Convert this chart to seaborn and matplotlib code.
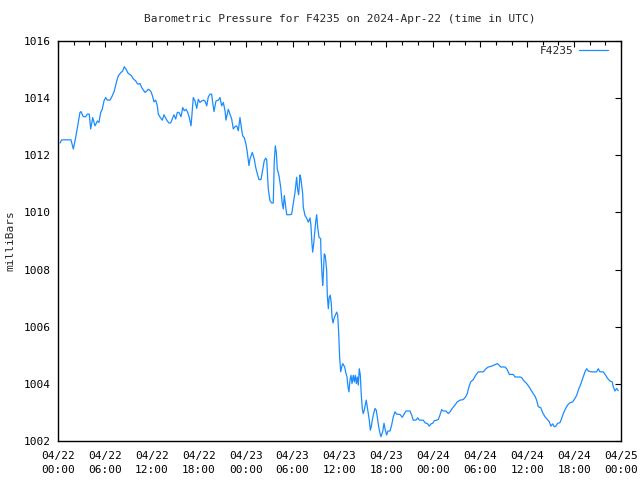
import matplotlib
matplotlib.use("Agg")
import matplotlib.pyplot as plt
import matplotlib.dates as mdates
import numpy as np
import pandas as pd
import seaborn as sns

# hours since 2024-04-22 00:00 UTC
hours = [0.26, 0.47, 1.66, 1.96, 2.26, 2.52, 2.81, 2.94, 3.24, 3.54, 3.75, 4.00, 4.18, 4.44, 4.73, 5.03, 5.24, 5.46, 5.66, 5.88,
         6.10, 6.30, 6.65, 6.94, 7.20, 7.51, 7.71, 8.02, 8.27, 8.48, 8.70, 8.99, 9.34, 9.63, 9.94, 10.19, 10.49, 10.70, 10.91, 11.13,
         11.34, 11.55, 11.85, 12.06, 12.28, 12.49, 12.70, 12.83, 13.13, 13.34, 13.55, 13.77, 13.98, 14.19, 14.41, 14.62, 14.83, 15.05,
         15.26, 15.47, 15.73, 15.95, 16.15, 16.37, 16.59, 16.79, 17.01, 17.10, 17.30, 17.52, 17.74, 17.94, 18.16, 18.38, 18.58, 18.80,
         19.02, 19.22, 19.44, 19.65, 19.78, 19.95, 20.20, 20.50,
         20.72, 20.93, 21.14, 21.36, 21.48, 21.78, 21.99, 22.21, 22.42, 22.63, 22.85, 23.06, 23.27, 23.49, 23.62, 23.82, 24.04, 24.21,
         24.42, 24.55, 24.85, 25.10, 25.28, 25.49, 25.70, 25.96, 26.18, 26.38, 26.56, 26.69, 26.89, 27.11, 27.33, 27.53, 27.66, 27.79,
         27.92, 28.04, 28.26, 28.48, 28.68, 28.81, 28.94, 29.07, 29.25, 29.67, 29.88, 30.09, 30.31, 30.52, 30.65, 30.78, 30.95, 31.07,
         31.29,
         31.37, 31.59, 31.80, 32.01, 32.23, 32.35, 32.48, 32.57, 32.70, 32.83, 32.95, 33.08, 33.21, 33.38, 33.59, 33.63, 33.76, 33.85,
         33.93, 34.05, 34.18, 34.36, 34.44, 34.57, 34.69, 34.82, 34.95, 35.04, 35.17, 35.29, 35.46, 35.64, 35.77, 35.90, 36.02, 36.15,
         36.28, 36.41, 36.53, 36.66, 36.83, 36.96, 37.08, 37.21, 37.34, 37.47, 37.60, 37.76, 37.89, 38.02, 38.15, 38.27, 38.40, 38.53,
         38.66, 38.79, 38.91, 39.04, 39.17, 39.30, 39.42, 39.55, 39.68, 39.81, 39.94, 40.06, 40.19, 40.32, 40.54, 40.70, 40.83, 41.01,
         41.18,
         41.30, 41.52, 41.69, 41.85, 42.03, 42.20, 42.46, 42.67, 42.88, 43.10, 43.31, 43.73, 44.03, 44.25, 44.50, 45.01, 45.23, 45.43,
         45.78, 46.00, 46.20, 46.71, 46.93, 47.28, 47.48, 47.70, 47.92, 48.12, 48.43, 48.63, 48.85, 49.07, 49.27, 49.62, 49.91, 50.13,
         50.42, 50.77, 51.06, 51.41, 51.83, 52.14, 52.34, 52.56, 52.78, 53.11, 53.41, 53.75, 54.39, 54.73, 55.03, 55.46, 55.88, 56.18,
         56.43, 56.61, 57.16, 57.38, 57.58, 57.71, 58.22, 58.44, 59.08, 59.30, 59.50, 59.94, 60.23, 60.49, 60.70, 61.00, 61.21, 61.42,
         61.73, 61.98, 62.28, 62.57, 62.83, 63.04, 63.26, 63.47, 63.68, 63.90, 64.19, 64.41, 64.62, 64.92, 65.18, 65.47, 65.82, 66.11,
         66.33, 66.62, 66.88, 67.17, 67.39, 67.61, 67.81, 68.24, 68.88, 69.09, 69.31, 69.73, 70.04, 70.29, 70.59, 70.88, 71.01, 71.23,
         71.44, 71.65]

pressure = [1012.43, 1012.54, 1012.54, 1012.22, 1012.62, 1013.03, 1013.50, 1013.53, 1013.35, 1013.35, 1013.44, 1013.44, 1012.92,
            1013.32, 1013.03, 1013.20, 1013.15, 1013.50, 1013.61, 1013.90,
            1014.02, 1013.93, 1013.93, 1014.08, 1014.25, 1014.60, 1014.78, 1014.89, 1014.95, 1015.10, 1015.01, 1014.86, 1014.80,
            1014.68, 1014.60, 1014.49, 1014.51, 1014.37, 1014.29, 1014.20,
            1014.25, 1014.31, 1014.25, 1014.10, 1013.87, 1013.93, 1013.73, 1013.44, 1013.30, 1013.23, 1013.42, 1013.30, 1013.20,
            1013.13, 1013.13, 1013.27, 1013.42, 1013.27, 1013.50, 1013.50, 1013.35, 1013.67, 1013.56, 1013.61, 1013.50, 1013.32,
            1013.03, 1013.32, 1014.02, 1013.90, 1013.64, 1013.96, 1013.85, 1013.90, 1013.93, 1013.90, 1013.73, 1014.04, 1014.14,
            1014.14, 1013.85, 1013.53, 1013.90, 1013.93,
            1014.02, 1013.73, 1013.85, 1013.56, 1013.23, 1013.61, 1013.44, 1013.27, 1012.92, 1013.00, 1013.03, 1012.86, 1013.32,
            1012.89, 1012.68, 1012.62, 1012.39, 1012.10, 1011.64, 1011.87, 1012.10, 1011.87, 1011.58, 1011.35, 1011.15, 1011.15,
            1011.49, 1011.81, 1011.90, 1011.84, 1010.82, 1010.41, 1010.33, 1010.33, 1011.81, 1012.33, 1012.10, 1011.52, 1011.29,
            1010.88, 1010.30, 1010.12, 1010.59, 1010.30, 1009.92, 1009.92, 1009.94, 1010.30, 1010.70, 1011.23, 1010.79, 1010.62,
            1011.31, 1011.17, 1010.65,
            1010.18, 1009.89, 1009.80, 1009.66, 1009.81, 1009.54, 1008.90, 1008.61, 1008.90, 1009.31, 1009.66, 1009.92, 1009.48,
            1009.13, 1009.08, 1008.61, 1007.85, 1007.45, 1007.80, 1008.55, 1008.49, 1007.97, 1007.10, 1006.63, 1007.04, 1007.10,
            1006.81, 1006.34, 1006.13, 1006.28, 1006.40, 1006.51, 1006.40, 1005.76, 1004.94, 1004.42, 1004.59, 1004.71, 1004.65,
            1004.59, 1004.36, 1004.25, 1003.90, 1003.72, 1004.13, 1004.30, 1004.01, 1004.30, 1004.07, 1004.30, 1004.01, 1004.24,
            1003.96, 1004.53, 1004.30, 1003.60, 1003.14, 1002.96, 1003.08, 1003.26, 1003.43, 1003.20, 1002.96, 1002.73, 1002.38,
            1002.50, 1002.73, 1002.91, 1003.14, 1003.08, 1002.85, 1002.50, 1002.27,
            1002.15, 1002.32, 1002.62, 1002.39, 1002.21, 1002.35, 1002.35, 1002.56, 1002.85, 1003.02, 1002.94, 1002.93, 1002.83,
            1002.93, 1003.05, 1003.05, 1002.91, 1002.73, 1002.73, 1002.81, 1002.73, 1002.73, 1002.64, 1002.60, 1002.52, 1002.60,
            1002.62, 1002.71, 1002.73, 1002.75, 1002.91, 1003.10, 1003.05, 1003.05, 1002.96, 1003.02, 1003.14, 1003.26, 1003.37,
            1003.43, 1003.45, 1003.55, 1003.66, 1003.90, 1004.07, 1004.15, 1004.30, 1004.42, 1004.42, 1004.53, 1004.59, 1004.62,
            1004.67, 1004.71, 1004.65, 1004.59, 1004.59, 1004.53, 1004.42, 1004.33, 1004.33, 1004.24, 1004.24, 1004.22, 1004.13,
            1004.01, 1003.90, 1003.78, 1003.69, 1003.57, 1003.43, 1003.20, 1003.17, 1002.99, 1002.85, 1002.76, 1002.67, 1002.52,
            1002.60, 1002.50, 1002.52, 1002.62, 1002.64, 1002.79, 1002.96, 1003.14, 1003.26, 1003.34, 1003.37, 1003.49, 1003.60,
            1003.84, 1004.01, 1004.24, 1004.42, 1004.53, 1004.45, 1004.42, 1004.42, 1004.53, 1004.42, 1004.42, 1004.30, 1004.19,
            1004.10, 1004.07, 1003.90, 1003.75, 1003.84, 1003.76]

series_name = "F4235"
title = "Barometric Pressure for F4235 on 2024-Apr-22 (time in UTC)"
y_label = "milliBars"
y_ticks = [1002, 1004, 1006, 1008, 1010, 1012, 1014, 1016]
start = pd.Timestamp("2024-04-22 00:00")
end = pd.Timestamp("2024-04-25 00:00")

df = pd.DataFrame({
    "time": start + pd.to_timedelta(hours, unit="h"),
    "pressure": pressure,
})

sns.set_style("white")
plt.rcParams["font.family"] = ["DejaVu Sans Mono", "DejaVu Sans"]

fig = plt.figure(figsize=(6.4, 4.8), dpi=100)
ax = fig.add_axes([58 / 640, 39 / 480, (621 - 58) / 640, (440 - 40) / 480])

line_color = "#1a8cff"
sns.lineplot(data=df, x="time", y="pressure", ax=ax, color=line_color,
             linewidth=0.9, label=series_name, estimator=None, sort=False)

ax.set_xlim(start, end)
ax.set_ylim(1002, 1016)
ax.set_yticks(y_ticks)
ax.set_yticklabels([str(v) for v in y_ticks])

ax.xaxis.set_major_locator(mdates.HourLocator(byhour=[0, 6, 12, 18]))
ax.xaxis.set_minor_locator(mdates.HourLocator(interval=2))
ax.xaxis.set_major_formatter(mdates.DateFormatter("%m/%d\n%H:%M"))

ax.tick_params(axis="both", which="both", direction="in", top=True, right=True,
               colors="black", labelsize=8, width=0.8)
ax.tick_params(axis="y", which="major", length=4, pad=5)
ax.tick_params(axis="x", which="major", length=4, pad=7)
ax.tick_params(axis="x", which="minor", length=3)
for lab in ax.get_xticklabels():
    lab.set_linespacing(1.5)

for sp in ax.spines.values():
    sp.set_visible(True)
    sp.set_color("black")
    sp.set_linewidth(1.0)

ax.set_xlabel("")
ax.set_ylabel(y_label, fontsize=8, labelpad=6)
fig.text((58 + 621) / 2 / 640, 1 - 19 / 480, title, ha="center", va="center", fontsize=8)

leg = ax.legend(loc="upper right", frameon=False, fontsize=8, markerfirst=False,
                handlelength=2.6, borderaxespad=0.05, handletextpad=0.5,
                bbox_to_anchor=(0.985, 1.0))

fig.savefig("out.png", dpi=100)
